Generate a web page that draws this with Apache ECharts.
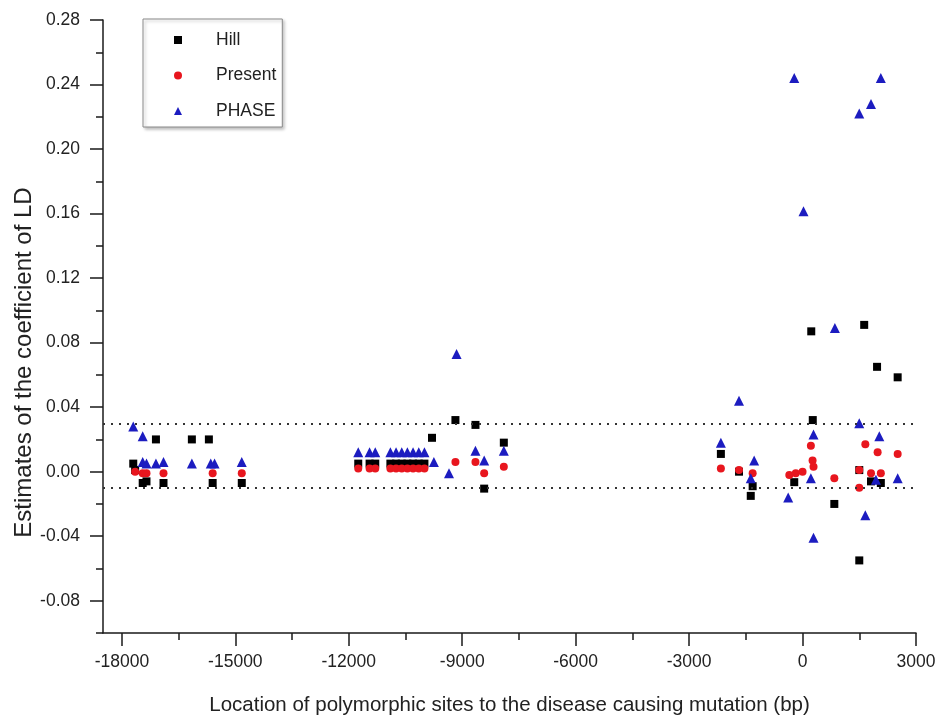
<!DOCTYPE html>
<html>
<head>
<meta charset="utf-8">
<script src="https://cdn.jsdelivr.net/npm/echarts@6/dist/echarts.min.js"></script>
<style>
  html, body { margin: 0; padding: 0; background: #fff; }
  #chart { width: 940px; height: 722px; }
</style>
</head>
<body>
<div id="chart"></div>
<script>
// Axis ticks
const xTicks = [-18000, -15000, -12000, -9000, -6000, -3000, 0, 3000];
const xMinorTicks = [-16500, -13500, -10500, -7500, -4500, -1500, 1500];
const yTicks = [-0.08, -0.04, 0, 0.04, 0.08, 0.12, 0.16, 0.20, 0.24, 0.28];
const yMinorTicks = [-0.10, -0.06, -0.02, 0.02, 0.06, 0.10, 0.14, 0.18, 0.22, 0.26];

// Reference bounds drawn as dotted lines
const thresholds = [0.03, -0.01];

const seriesNames = ['Hill', 'Present', 'PHASE'];

// [location (bp), LD coefficient estimate]
const hill = [
  [-17700, 0.005], [-17650, 0.001], [-17450, -0.007], [-17350, -0.006], [-17100, 0.020],
  [-16900, -0.007], [-16150, 0.020], [-15700, 0.020], [-15600, -0.007], [-14830, -0.007],
  [-11750, 0.005], [-11450, 0.005], [-11300, 0.005], [-10900, 0.005], [-10750, 0.005],
  [-10600, 0.005], [-10450, 0.005], [-10300, 0.005], [-10150, 0.005], [-10000, 0.005],
  [-9800, 0.021], [-9180, 0.032], [-8650, 0.029], [-8420, -0.0105], [-7900, 0.018],
  [-2160, 0.011], [-1680, 0.000], [-1320, -0.009], [-1370, -0.015], [-220, -0.0065],
  [230, 0.087], [270, 0.032], [840, -0.020], [1500, -0.055], [1500, 0.001],
  [1630, 0.091], [1810, -0.006], [1970, 0.065], [2070, -0.007], [2515, 0.0585]
];

const present = [
  [-17650, 0.000], [-17450, -0.001], [-17350, -0.001], [-16900, -0.001], [-15600, -0.001],
  [-14830, -0.001],
  [-11750, 0.002], [-11450, 0.002], [-11300, 0.002], [-10900, 0.002], [-10750, 0.002],
  [-10600, 0.002], [-10450, 0.002], [-10300, 0.002], [-10150, 0.002], [-10000, 0.002],
  [-9180, 0.006], [-8650, 0.006], [-8420, -0.001], [-7900, 0.003],
  [-2160, 0.002], [-1680, 0.001], [-1320, -0.001], [-350, -0.002], [-180, -0.001],
  [0, 0.000], [220, 0.016], [265, 0.007], [290, 0.003], [840, -0.004],
  [1500, 0.001], [1500, -0.010], [1660, 0.017], [1810, -0.001], [1985, 0.012],
  [2070, -0.001], [2515, 0.011]
];

const phase = [
  [-17700, 0.028], [-17450, 0.022], [-17450, 0.006], [-17350, 0.005], [-17100, 0.005],
  [-16900, 0.006], [-16150, 0.005], [-15650, 0.005], [-15550, 0.005], [-14830, 0.006],
  [-11750, 0.012], [-11450, 0.012], [-11300, 0.012], [-10900, 0.012], [-10750, 0.012],
  [-10600, 0.012], [-10450, 0.012], [-10300, 0.012], [-10150, 0.012], [-10000, 0.012],
  [-9750, 0.006], [-9350, -0.001], [-9150, 0.073], [-8650, 0.013], [-8420, 0.007],
  [-7900, 0.013],
  [-2160, 0.018], [-1680, 0.044], [-1280, 0.007], [-1370, -0.004], [-380, -0.016],
  [-220, 0.244], [25, 0.1615], [220, -0.004], [290, 0.023], [290, -0.041],
  [855, 0.089], [1500, 0.030], [1500, 0.222], [1660, -0.027], [1810, 0.228],
  [2030, 0.022], [1940, -0.005], [2070, 0.244], [2515, -0.004]
];

const FONT = '"Liberation Sans", Arial, sans-serif';
const FS = 17.5;
const INK = '#222';
const AXIS = '#1a1a1a';

const chart = echarts.init(document.getElementById('chart'), null, { renderer: 'canvas' });

// Second axes only carry the minor ticks
const hiddenAxisParts = {
  axisLine: { show: false, onZero: false },
  axisLabel: { show: false },
  splitLine: { show: false }
};

chart.setOption({
  animation: false,
  backgroundColor: '#fff',
  textStyle: { fontFamily: FONT },
  grid: { left: 103, right: 24, top: 20, bottom: 89, outerBoundsMode: 'none' },
  legend: {
    orient: 'vertical',
    left: 143,
    top: 19,
    padding: [12, 6, 7, 31],
    itemGap: 17.5,
    itemWidth: 8,
    itemHeight: 8,
    backgroundColor: '#fff',
    borderColor: '#8a8a8a',
    borderWidth: 1,
    shadowColor: 'rgba(0,0,0,0.25)',
    shadowBlur: 3,
    shadowOffsetX: 2,
    shadowOffsetY: 2,
    textStyle: { fontFamily: FONT, fontSize: FS, color: INK, padding: [0, 0, 0, 29] },
    data: seriesNames
  },
  xAxis: [
    {
      type: 'value',
      min: -18500,
      max: 3000,
      position: 'bottom',
      name: 'Location of polymorphic sites to the disease causing mutation (bp)',
      nameLocation: 'middle',
      nameGap: 62,
      nameTextStyle: { fontFamily: FONT, fontSize: 20.5, color: INK },
      axisLine: { onZero: false, lineStyle: { color: AXIS, width: 1.5 } },
      axisTick: { customValues: xTicks, length: 13, lineStyle: { color: AXIS, width: 1.5 } },
      axisLabel: {
        customValues: xTicks, margin: 20, fontFamily: FONT, fontSize: FS, color: INK,
        formatter: v => String(v)
      },
      splitLine: { show: false }
    },
    Object.assign({
      type: 'value',
      min: -18500,
      max: 3000,
      position: 'bottom',
      axisTick: { customValues: xMinorTicks, length: 7, lineStyle: { color: AXIS, width: 1.5 } }
    }, hiddenAxisParts)
  ],
  yAxis: [
    {
      type: 'value',
      min: -0.10,
      max: 0.28,
      position: 'left',
      name: 'Estimates of the coefficient of LD',
      nameLocation: 'middle',
      nameGap: 67,
      nameMoveOverlap: false,
      nameTextStyle: { fontFamily: FONT, fontSize: 24, color: INK, padding: [0, 72, 0, 0] },
      axisLine: { onZero: false, lineStyle: { color: AXIS, width: 1.5 } },
      axisTick: { customValues: yTicks, length: 13, lineStyle: { color: AXIS, width: 1.5 } },
      axisLabel: {
        customValues: yTicks, margin: 23, fontFamily: FONT, fontSize: FS, color: INK,
        formatter: v => v.toFixed(2)
      },
      splitLine: { show: false }
    },
    Object.assign({
      type: 'value',
      min: -0.10,
      max: 0.28,
      position: 'left',
      axisTick: { customValues: yMinorTicks, length: 7, lineStyle: { color: AXIS, width: 1.5 } }
    }, hiddenAxisParts)
  ],
  series: [
    {
      name: 'Hill',
      type: 'scatter',
      symbol: 'rect',
      symbolSize: 8,
      itemStyle: { color: '#000', opacity: 1 },
      data: hill,
      markLine: {
        silent: true,
        symbol: 'none',
        label: { show: false },
        lineStyle: { color: '#333', width: 1.8, type: [2, 6] },
        data: thresholds.map(v => ({ yAxis: v }))
      }
    },
    {
      name: 'Present',
      type: 'scatter',
      symbol: 'circle',
      symbolSize: 8,
      itemStyle: { color: '#e8161e', opacity: 1 },
      data: present
    },
    {
      name: 'PHASE',
      type: 'scatter',
      symbol: 'triangle',
      symbolSize: 10,
      itemStyle: { color: '#1c1cc0', opacity: 1 },
      data: phase
    }
  ]
});
</script>
</body>
</html>
